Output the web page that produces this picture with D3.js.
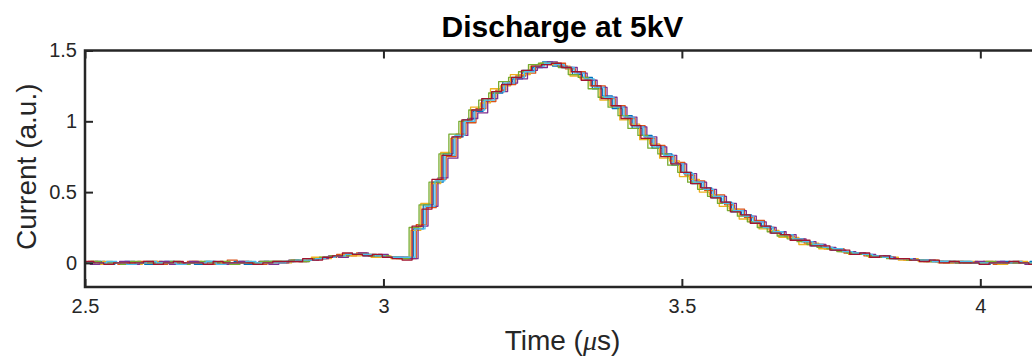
<!DOCTYPE html>
<html>
<head>
<meta charset="utf-8">
<script src="https://cdn.jsdelivr.net/npm/d3@7"></script>
<style>
  html, body { margin: 0; padding: 0; background: #fff; }
  svg { display: block; font-family: 'Liberation Sans', Arial, Helvetica, sans-serif; }
</style>
</head>
<body>
<svg id="chart" width="1032" height="356"></svg>
<script>
// Sampling grid of the scope traces (μs)
const T_START = 2.5;
const T_STEP = 1 / 60;

// Per-shot trigger lag (μs) — shots never line up exactly
const traceLags = [0, 0.005, -0.004, 0.008, -0.007, 0.003, -0.002];

// Current of each shot, in hundredths of an a.u., one sample per T_STEP
const trace1 = [0, 1, -1, 0, 1, 0, -1, 0, 1, 0, 0, -1, 1, 0, 0, 1, -1, 0, 1,
  1, 1, 2, 2, 3, 4, 5, 6, 6, 5, 5, 4, 4, 3,
  24, 41, 57, 77, 89, 101, 107, 116, 120, 128, 130, 136, 138, 142, 139, 138, 133, 131, 123, 118,
  109, 104, 95, 90, 81, 77, 69, 64, 56, 53, 46, 43, 36, 34, 28, 26, 21, 20, 16, 15,
  12, 11, 9, 8, 6, 6, 4, 5, 3, 3, 2, 2, 1, 1, 0, 1, 0, -1, 0, 1, 0, 0, 1, 0];
const trace2 = [1, 0, 0, -1, 0, 1, 1, -1, 0, 0, 1, 0, -1, 0, 2, 0, 0, -1, 0,
  0, 1, 1, 3, 3, 4, 6, 5, 7, 6, 5, 4, 3, 3,
  27, 39, 59, 75, 91, 99, 109, 114, 122, 126, 132, 134, 140, 140, 141, 137, 135, 129, 125, 116,
  111, 102, 97, 88, 83, 75, 71, 62, 58, 51, 48, 41, 38, 32, 30, 25, 22, 19, 17, 14,
  13, 10, 10, 7, 7, 5, 5, 4, 3, 2, 2, 1, 1, 0, 1, 0, 0, 1, -1, 0, 1, 0, 0, -1];
const trace3 = [0, -1, 1, 0, 0, -1, 0, 1, 0, -1, 0, 1, 0, 0, -1, 0, 1, 0, 0,
  1, 0, 2, 2, 4, 3, 5, 6, 5, 6, 4, 5, 3, 4,
  23, 42, 56, 78, 88, 100, 110, 113, 123, 125, 133, 133, 139, 141, 140, 139, 132, 130, 125, 115,
  111, 101, 98, 87, 84, 74, 72, 61, 59, 50, 48, 40, 38, 31, 29, 24, 23, 18, 18, 13,
  14, 10, 10, 8, 6, 6, 4, 4, 4, 2, 3, 1, 2, 0, 0, 1, 1, 0, 0, -1, 0, 1, 0, 0];
const trace4 = [-1, 0, 0, 1, -1, 0, 0, 1, -1, 0, 1, 0, 0, -1, 0, 1, 0, 1, -1,
  0, 2, 1, 2, 3, 5, 4, 6, 7, 5, 6, 4, 4, 3,
  26, 40, 60, 74, 90, 102, 106, 116, 121, 127, 130, 136, 138, 142, 139, 138, 134, 129, 124, 117,
  110, 103, 96, 89, 82, 76, 70, 63, 57, 52, 47, 42, 37, 33, 29, 25, 22, 20, 17, 15,
  13, 11, 9, 8, 7, 6, 5, 4, 3, 3, 2, 2, 1, 1, 0, 0, 1, 0, 1, 0, 0, -1, 1, 0];
const trace5 = [0, 1, 0, 0, -1, 1, 0, 0, 0, 1, -1, 0, 1, 0, 1, -1, 0, 0, 1,
  1, 1, 2, 1, 3, 4, 5, 5, 6, 6, 5, 5, 4, 3,
  25, 41, 57, 77, 91, 100, 108, 115, 120, 128, 131, 135, 140, 141, 141, 138, 133, 131, 123, 117,
  110, 104, 95, 90, 81, 77, 69, 64, 57, 52, 47, 42, 37, 33, 29, 25, 22, 19, 17, 15,
  13, 11, 10, 8, 7, 6, 5, 4, 3, 3, 2, 2, 1, 1, 1, 0, 0, 0, 1, 0, 0, 0, 0, 1];
const trace6 = [0, 0, 1, 0, -1, 0, 1, 0, 0, -1, 0, 0, 1, -1, 0, 0, 1, 0, 0,
  0, 1, 2, 2, 3, 4, 5, 6, 6, 6, 5, 4, 4, 4,
  24, 40, 58, 76, 90, 100, 108, 115, 121, 127, 131, 135, 139, 141, 140, 138, 134, 130, 124, 117,
  110, 103, 96, 89, 82, 76, 70, 63, 57, 52, 47, 42, 37, 33, 29, 25, 22, 20, 17, 15,
  13, 11, 10, 8, 7, 6, 5, 4, 3, 3, 2, 2, 1, 1, 1, 1, 0, 0, 0, 0, 1, 0, 0, 0];
const trace7 = [1, 0, -1, 0, 0, 0, 1, -1, 0, 1, 0, 0, -1, 1, 0, 0, 0, -1, 0,
  1, 1, 1, 3, 2, 4, 5, 7, 6, 5, 6, 4, 3, 2,
  26, 38, 59, 76, 89, 101, 108, 116, 121, 126, 131, 136, 139, 140, 141, 138, 135, 129, 125, 116,
  111, 102, 97, 88, 83, 75, 70, 64, 56, 53, 46, 43, 36, 34, 28, 26, 21, 20, 16, 16,
  12, 12, 9, 9, 6, 7, 4, 5, 3, 3, 2, 1, 2, 0, 1, 0, 0, -1, 0, 0, 1, 0, -1, 0];

const traces = [trace1, trace2, trace3, trace4, trace5, trace6, trace7];

const xTicks = [2.5, 3, 3.5, 4];
const yTicks = [0, 0.5, 1, 1.5];

// MATLAB default colour order
const TRACE_COLORS = ['#0072BD', '#D95319', '#EDB120', '#7E2F8E', '#77AC30', '#4DBEEE', '#A2142F'];
const AXIS_COLOR = '#262626';

const plot = { left: 85, right: 1040, top: 50.5, bottom: 287 };

const svg = d3.select('#chart');

const x = d3.scaleLinear().domain([2.5, 4.1]).range([plot.left, plot.right]);
const y = d3.scaleLinear().domain([-0.17, 1.5]).range([plot.bottom, plot.top]);

svg.append('defs').append('clipPath')
  .attr('id', 'plot-clip')
  .append('rect')
  .attr('x', plot.left)
  .attr('y', plot.top)
  .attr('width', plot.right - plot.left)
  .attr('height', plot.bottom - plot.top);

// Traces — stepped like the digitiser output
const line = d3.line()
  .x(d => x(d.t))
  .y(d => y(d.v))
  .curve(d3.curveStepAfter);

svg.append('g')
  .attr('clip-path', 'url(#plot-clip)')
  .selectAll('path')
  .data(traces)
  .join('path')
  .attr('fill', 'none')
  .attr('stroke', (d, i) => TRACE_COLORS[i % TRACE_COLORS.length])
  .attr('stroke-width', 1.3)
  .attr('stroke-linejoin', 'round')
  .attr('d', (trace, k) => line(trace.map((v, i) => ({ t: T_START + i * T_STEP + traceLags[k], v: v / 100 }))));

// Axes — ticks point inward, MATLAB style
const TICK = 8;

const styleAxis = g => {
  g.select('.domain').remove();
  g.selectAll('.tick line').attr('stroke', AXIS_COLOR).attr('stroke-width', 2);
  g.selectAll('.tick text').attr('fill', AXIS_COLOR).attr('font-size', 20);
};

svg.append('g')
  .attr('transform', `translate(0,${plot.bottom})`)
  .call(d3.axisBottom(x).tickValues(xTicks).tickSizeInner(-TICK).tickSizeOuter(0).tickPadding(12).tickFormat(d3.format('')))
  .call(styleAxis);

svg.append('g')
  .attr('transform', `translate(0,${plot.top})`)
  .call(d3.axisTop(x).tickValues(xTicks).tickSizeInner(-TICK).tickSizeOuter(0).tickFormat(''))
  .call(styleAxis);

svg.append('g')
  .attr('transform', `translate(${plot.left},0)`)
  .call(d3.axisLeft(y).tickValues(yTicks).tickSizeInner(-TICK).tickSizeOuter(0).tickPadding(8).tickFormat(d3.format('')))
  .call(styleAxis);

svg.append('g')
  .attr('transform', `translate(${plot.right},0)`)
  .call(d3.axisRight(y).tickValues(yTicks).tickSizeInner(-TICK).tickSizeOuter(0).tickFormat(''))
  .call(styleAxis);

// Box
svg.append('rect')
  .attr('x', plot.left)
  .attr('y', plot.top)
  .attr('width', plot.right - plot.left)
  .attr('height', plot.bottom - plot.top)
  .attr('fill', 'none')
  .attr('stroke', AXIS_COLOR)
  .attr('stroke-width', 2.5);

// Title and labels
const midX = (plot.left + plot.right) / 2;

svg.append('text')
  .attr('x', midX)
  .attr('y', 37)
  .attr('text-anchor', 'middle')
  .attr('font-size', 30)
  .attr('font-weight', 'bold')
  .attr('fill', '#000')
  .text('Discharge at 5kV');

const xLabel = svg.append('text')
  .attr('x', midX)
  .attr('y', 350)
  .attr('text-anchor', 'middle')
  .attr('font-size', 28)
  .attr('fill', AXIS_COLOR);
xLabel.append('tspan').text('Time (');
xLabel.append('tspan')
  .attr('font-family', "'Liberation Serif', 'Times New Roman', serif")
  .attr('font-style', 'italic')
  .text('μ');
xLabel.append('tspan').text('s)');

svg.append('text')
  .attr('transform', `translate(36,${(plot.top + plot.bottom) / 2 - 2}) rotate(-90)`)
  .attr('text-anchor', 'middle')
  .attr('font-size', 28)
  .attr('fill', AXIS_COLOR)
  .text('Current (a.u.)');
</script>
</body>
</html>
